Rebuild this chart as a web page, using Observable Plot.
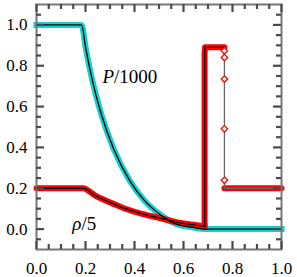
<!DOCTYPE html>
<html><head><meta charset="utf-8">
<script src="https://cdn.jsdelivr.net/npm/d3@7"></script>
<script src="https://cdn.jsdelivr.net/npm/@observablehq/plot@0.6"></script>
<style>body{margin:0;background:#fff} svg{display:block} svg text{font-family:"Liberation Serif","DejaVu Serif",serif}</style>
</head><body><div id="chart"></div>
<script>
// Pressure / 1000
const presX = [0, 0.184, 0.201, 0.229, 0.265, 0.313, 0.381, 0.442, 0.503, 0.571, 0.640, 0.687, 1.0];
const presY = [1.0, 1.0, 0.886, 0.723, 0.561, 0.398, 0.236, 0.138, 0.073, 0.024, 0.008, 0.0, 0.0];
// Density / 5, rarefaction part
const rhoRareX = [0, 0.19, 0.24, 0.299, 0.36, 0.435, 0.506, 0.571, 0.63, 0.687];
const rhoRareY = [0.2, 0.2, 0.164, 0.131, 0.101, 0.073, 0.053, 0.034, 0.022, 0.014];
// Density / 5, contact + shell (exact)
const rhoStepX = [0.687, 0.687, 0.767];
const rhoStepY = [0.014, 0.89, 0.89];
// Density / 5, shock + post-shock (exact)
const rhoShockX = [0.767, 0.767, 1.0];
const rhoShockY = [0.89, 0.2, 0.2];
// Density / 5, numerical: contact column and shell
const rhoNumShellX = [0.686, 0.686, 0.688, 0.767];
const rhoNumShellY = [0.016, 0.86, 0.891, 0.891];
// numerical points behind the shock
const rhoNumPostX = [0.767, 1.0];
const rhoNumPostY = [0.2, 0.2];
// isolated numerical points inside the shock
const shockPtX = [0.767, 0.767, 0.767, 0.767, 0.767];
const shockPtY = [0.873, 0.84, 0.735, 0.491, 0.239];

const xMajor = [0, 0.2, 0.4, 0.6, 0.8, 1.0];
const xMinor = [0.05,0.1,0.15,0.25,0.3,0.35,0.45,0.5,0.55,0.65,0.7,0.75,0.85,0.9,0.95];
const yMajor = [0, 0.2, 0.4, 0.6, 0.8, 1.0];
const yMinor = [-0.05,0.05,0.1,0.15,0.25,0.3,0.35,0.45,0.5,0.55,0.65,0.7,0.75,0.85,0.9,0.95,1.05];

const labelText = ["P/1000", "ρ/5"];
const labelX = [0.269, 0.146];
const labelY = [0.745, 0.023];

const zip = (xs, ys) => xs.map((x, i) => ({x, y: ys[i]}));
const pres = zip(presX, presY);
const rhoRare = zip(rhoRareX, rhoRareY);
const rhoStep = zip(rhoStepX, rhoStepY);
const rhoShock = zip(rhoShockX, rhoShockY);
const rhoShell = zip(rhoNumShellX, rhoNumShellY);
const rhoPost = zip(rhoNumPostX, rhoNumPostY);
const shockPts = zip(shockPtX, shockPtY);
const labels = labelText.map((t, i) => ({t, x: labelX[i], y: labelY[i]}));

const CYAN = "#14d0d0", RED = "#ff0000", GRAY = "#777777", TICK = "#4a4a4a";
const fmt = d3.format(".1f");
const W = 297, H = 277, ML = 36, MR = 16, MT = 4, MB = 28;
const XD = [0, 1], YD = [-0.1, 1.1];
const IW = W - ML - MR, IH = H - MT - MB;
const TMAJ = 8, TMIN = 5;
const tk = {stroke: TICK, strokeWidth: 2.2};

const chart = Plot.plot({
  width: W, height: H,
  marginLeft: ML, marginRight: MR, marginTop: MT, marginBottom: MB,
  x: {domain: XD},
  y: {domain: YD},
  marks: [
    Plot.line(pres, {x: "x", y: "y", stroke: CYAN, strokeWidth: 6, curve: "monotone-x", strokeLinecap: "square"}),
    Plot.line(rhoRare, {x: "x", y: "y", stroke: RED, strokeWidth: 6, curve: "monotone-x", strokeLinecap: "round"}),
    Plot.line(rhoShell, {x: "x", y: "y", stroke: RED, strokeWidth: 6, strokeLinecap: "round", strokeLinejoin: "round"}),
    Plot.line(rhoPost, {x: "x", y: "y", stroke: RED, strokeWidth: 6, strokeLinecap: "round"}),
    Plot.line(pres, {x: "x", y: "y", stroke: "black", strokeWidth: 1.3, curve: "monotone-x"}),
    Plot.line(rhoRare, {x: "x", y: "y", stroke: "black", strokeWidth: 1.3, curve: "monotone-x"}),
    Plot.line(rhoStep, {x: "x", y: "y", stroke: "black", strokeWidth: 1.3}),
    Plot.line(rhoShock, {x: "x", y: "y", stroke: "#666", strokeWidth: 1.3}),
    Plot.dot(shockPts, {x: "x", y: "y", symbol: "diamond2", r: 2.9, stroke: RED, strokeWidth: 1.3, fill: "white"}),
    Plot.text(labels, {x: "x", y: "y", text: "t", textAnchor: "start", lineAnchor: "middle", fontSize: 19}),
    Plot.frame({stroke: GRAY, strokeWidth: 2}),
    // inward ticks on all four sides, drawn over the frame
    Plot.tickX(xMajor, {x: d => d, insetTop: IH - TMAJ, ...tk}),
    Plot.tickX(xMinor, {x: d => d, insetTop: IH - TMIN, ...tk}),
    Plot.tickX(xMajor, {x: d => d, insetBottom: IH - TMAJ, ...tk}),
    Plot.tickX(xMinor, {x: d => d, insetBottom: IH - TMIN, ...tk}),
    Plot.tickY(yMajor, {y: d => d, insetRight: IW - TMAJ, ...tk}),
    Plot.tickY(yMinor, {y: d => d, insetRight: IW - TMIN, ...tk}),
    Plot.tickY(yMajor, {y: d => d, insetLeft: IW - TMAJ, ...tk}),
    Plot.tickY(yMinor, {y: d => d, insetLeft: IW - TMIN, ...tk}),
    Plot.axisX({anchor: "bottom", ticks: xMajor, tickSize: 0, tickPadding: 12, tickFormat: fmt, label: null, fontSize: 17}),
    Plot.axisY({anchor: "left", ticks: yMajor, tickSize: 0, tickPadding: 9, tickFormat: fmt, label: null, fontSize: 17})
  ]
});
// italicise the math symbols in the labels
chart.querySelectorAll("text").forEach(t => {
  const s = t.textContent;
  if (!labelText.includes(s)) return;
  const sym = s.split("/")[0];
  t.textContent = "";
  const a = document.createElementNS("http://www.w3.org/2000/svg", "tspan");
  a.setAttribute("font-style", "italic");
  a.textContent = sym;
  const b = document.createElementNS("http://www.w3.org/2000/svg", "tspan");
  b.textContent = s.slice(sym.length);
  t.appendChild(a); t.appendChild(b);
});
document.getElementById("chart").appendChild(chart);
</script>
</body></html>
